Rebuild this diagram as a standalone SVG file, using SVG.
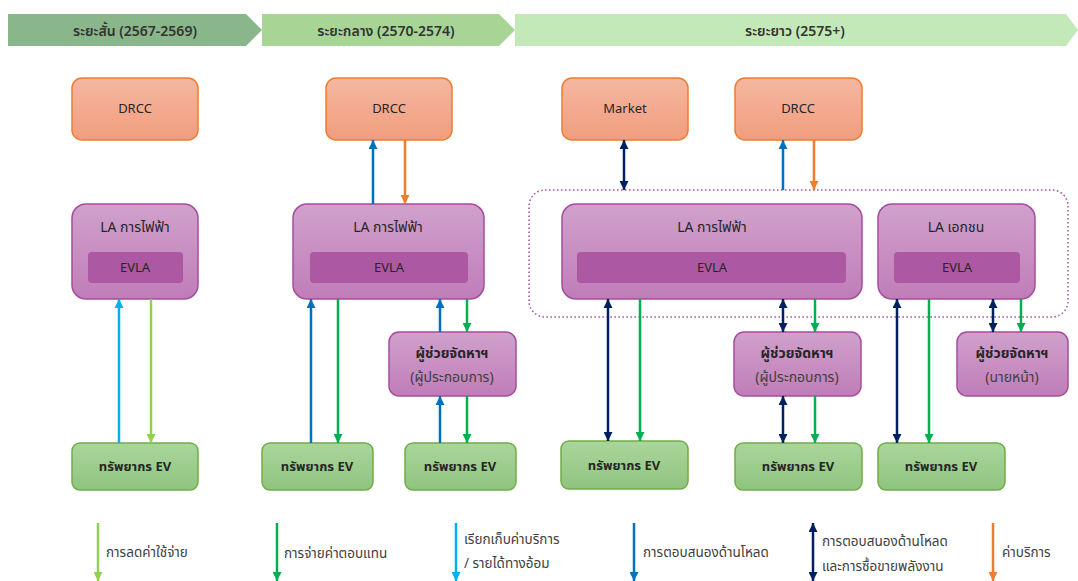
<svg xmlns="http://www.w3.org/2000/svg" width="1078" height="581" viewBox="0 0 1078 581">
<defs>
<linearGradient id="gO" x1="0" y1="0" x2="0" y2="1"><stop offset="0" stop-color="#f4b7a1"/><stop offset="1" stop-color="#f19d7d"/></linearGradient>
<linearGradient id="gP" x1="0" y1="0" x2="0" y2="1"><stop offset="0" stop-color="#d0a1cc"/><stop offset="1" stop-color="#c07db8"/></linearGradient>
<linearGradient id="gG" x1="0" y1="0" x2="0" y2="1"><stop offset="0" stop-color="#aad69c"/><stop offset="1" stop-color="#8fc47f"/></linearGradient>
<marker id="mCy" viewBox="0 0 10 10" refX="10" refY="5" markerWidth="9" markerHeight="9" markerUnits="userSpaceOnUse" orient="auto-start-reverse"><path d="M0,0L10,5L0,10z" fill="#00b0f0"/></marker>
<marker id="mLg" viewBox="0 0 10 10" refX="10" refY="5" markerWidth="9" markerHeight="9" markerUnits="userSpaceOnUse" orient="auto-start-reverse"><path d="M0,0L10,5L0,10z" fill="#92d050"/></marker>
<marker id="mGr" viewBox="0 0 10 10" refX="10" refY="5" markerWidth="9" markerHeight="9" markerUnits="userSpaceOnUse" orient="auto-start-reverse"><path d="M0,0L10,5L0,10z" fill="#00b050"/></marker>
<marker id="mBl" viewBox="0 0 10 10" refX="10" refY="5" markerWidth="9" markerHeight="9" markerUnits="userSpaceOnUse" orient="auto-start-reverse"><path d="M0,0L10,5L0,10z" fill="#0070c0"/></marker>
<marker id="mNv" viewBox="0 0 10 10" refX="10" refY="5" markerWidth="9" markerHeight="9" markerUnits="userSpaceOnUse" orient="auto-start-reverse"><path d="M0,0L10,5L0,10z" fill="#002060"/></marker>
<marker id="mOr" viewBox="0 0 10 10" refX="10" refY="5" markerWidth="9" markerHeight="9" markerUnits="userSpaceOnUse" orient="auto-start-reverse"><path d="M0,0L10,5L0,10z" fill="#ed7d31"/></marker>
</defs>
<style>
text{font-family:"Noto Sans","Noto Sans Thai","DejaVu Sans",sans-serif;text-anchor:middle;dominant-baseline:central;fill:#262626}
.hd{font-size:14px;font-weight:600;fill:#333}
.orb{fill:url(#gO);stroke:#ed7d31;stroke-width:1.5}
.pb{fill:url(#gP);stroke:#a64ca0;stroke-width:1.5}
.ev{fill:#ad58a3}
.gb{fill:url(#gG);stroke:#70ad47;stroke-width:1.5}
.t13{font-size:13px}
.t14{font-size:14px}
.b{font-weight:bold}
.sub{font-size:14px;fill:#404040}
.lg{font-size:13.5px;fill:#404040;text-anchor:start}
line{stroke-width:2.5;fill:none}
.cy{stroke:#00b0f0}.lgn{stroke:#92d050}.gr{stroke:#00b050}.bl{stroke:#0070c0}.nv{stroke:#002060}.or{stroke:#ed7d31}
</style>

<g id="header">
<polygon points="8,14 246,14 262,30 246,46 8,46" fill="#8ab68c"/>
<polygon points="262,14 499,14 515,30 499,46 262,46" fill="#a8d596"/>
<polygon points="515,14 1066,14 1078,30 1066,46 515,46" fill="#c4e9b8"/>
<text class="hd" x="135" y="30">ระยะสั้น (2567-2569)</text>
<text class="hd" x="386" y="30">ระยะกลาง (2570-2574)</text>
<text class="hd" x="795" y="30">ระยะยาว (2575+)</text>
</g>

<g id="group-dotted"><rect x="529" y="190" width="539" height="127" rx="16" fill="none" stroke="#a64ca0" stroke-width="1.5" stroke-dasharray="1.5 2.5"/></g>

<g id="drcc1"><rect class="orb" x="72" y="78" width="126" height="62" rx="10"/><text class="t13" x="135" y="108">DRCC</text></g>
<g id="drcc2"><rect class="orb" x="326" y="78" width="126" height="62" rx="10"/><text class="t13" x="389" y="108">DRCC</text></g>
<g id="market"><rect class="orb" x="562" y="78" width="126" height="62" rx="10"/><text class="t13" x="625" y="108">Market</text></g>
<g id="drcc3"><rect class="orb" x="735" y="78" width="127" height="62" rx="10"/><text class="t13" x="798" y="108">DRCC</text></g>

<g id="la1"><rect class="pb" x="72" y="204" width="126" height="95" rx="14"/><text class="t14" x="135" y="226">LA การไฟฟ้า</text><rect class="ev" x="88" y="252" width="95" height="31" rx="4"/><text class="t13" x="135" y="267">EVLA</text></g>
<g id="la2"><rect class="pb" x="293" y="204" width="191" height="95" rx="14"/><text class="t14" x="388" y="226">LA การไฟฟ้า</text><rect class="ev" x="310" y="252" width="158" height="31" rx="4"/><text class="t13" x="389" y="267">EVLA</text></g>
<g id="la3"><rect class="pb" x="562" y="204" width="300" height="95" rx="14"/><text class="t14" x="712" y="226">LA การไฟฟ้า</text><rect class="ev" x="577" y="252" width="269" height="31" rx="4"/><text class="t13" x="712" y="267">EVLA</text></g>
<g id="la4"><rect class="pb" x="878" y="204" width="157" height="95" rx="14"/><text class="t14" x="956" y="226">LA เอกชน</text><rect class="ev" x="894" y="252" width="126" height="31" rx="4"/><text class="t13" x="957" y="267">EVLA</text></g>

<g id="agg2"><rect class="pb" x="389" y="332" width="127" height="64" rx="10"/><text class="t14 b" x="452" y="352">ผู้ช่วยจัดหาฯ</text><text class="sub" x="452" y="376">(ผู้ประกอบการ)</text></g>
<g id="agg3"><rect class="pb" x="734" y="332" width="127" height="64" rx="10"/><text class="t14 b" x="797" y="352">ผู้ช่วยจัดหาฯ</text><text class="sub" x="797" y="376">(ผู้ประกอบการ)</text></g>
<g id="agg4"><rect class="pb" x="957" y="332" width="111" height="64" rx="10"/><text class="t14 b" x="1012" y="352">ผู้ช่วยจัดหาฯ</text><text class="sub" x="1012" y="376">(นายหน้า)</text></g>

<g id="ev1"><rect class="gb" x="72" y="443" width="126" height="47" rx="8"/><text class="t13 b" x="135" y="466">ทรัพยากร EV</text></g>
<g id="ev2"><rect class="gb" x="262" y="443" width="111" height="47" rx="8"/><text class="t13 b" x="317" y="466">ทรัพยากร EV</text></g>
<g id="ev3"><rect class="gb" x="405" y="443" width="111" height="47" rx="8"/><text class="t13 b" x="460" y="466">ทรัพยากร EV</text></g>
<g id="ev4"><rect class="gb" x="561" y="441" width="127" height="48" rx="8"/><text class="t13 b" x="624" y="465">ทรัพยากร EV</text></g>
<g id="ev5"><rect class="gb" x="735" y="443" width="127" height="47" rx="8"/><text class="t13 b" x="798" y="466">ทรัพยากร EV</text></g>
<g id="ev6"><rect class="gb" x="878" y="443" width="127" height="47" rx="8"/><text class="t13 b" x="941" y="466">ทรัพยากร EV</text></g>

<g id="connectors">
<line class="cy" x1="119" y1="443" x2="119" y2="299" marker-end="url(#mCy)"/>
<line class="lgn" x1="151" y1="299" x2="151" y2="443" marker-end="url(#mLg)"/>
<line class="bl" x1="373" y1="204" x2="373" y2="140" marker-end="url(#mBl)"/>
<line class="or" x1="405" y1="140" x2="405" y2="204" marker-end="url(#mOr)"/>
<line class="bl" x1="311" y1="443" x2="311" y2="299" marker-end="url(#mBl)"/>
<line class="gr" x1="338" y1="299" x2="338" y2="443" marker-end="url(#mGr)"/>
<line class="bl" x1="440" y1="332" x2="440" y2="299" marker-end="url(#mBl)"/>
<line class="gr" x1="467" y1="299" x2="467" y2="332" marker-end="url(#mGr)"/>
<line class="bl" x1="440" y1="443" x2="440" y2="396" marker-end="url(#mBl)"/>
<line class="gr" x1="467" y1="396" x2="467" y2="443" marker-end="url(#mGr)"/>
<line class="nv" x1="624" y1="140" x2="624" y2="190" marker-start="url(#mNv)" marker-end="url(#mNv)"/>
<line class="bl" x1="783" y1="190" x2="783" y2="140" marker-end="url(#mBl)"/>
<line class="or" x1="814" y1="140" x2="814" y2="190" marker-end="url(#mOr)"/>
<line class="nv" x1="608" y1="299" x2="608" y2="441" marker-start="url(#mNv)" marker-end="url(#mNv)"/>
<line class="gr" x1="640" y1="299" x2="640" y2="441" marker-end="url(#mGr)"/>
<line class="nv" x1="783" y1="299" x2="783" y2="332" marker-start="url(#mNv)" marker-end="url(#mNv)"/>
<line class="gr" x1="815" y1="299" x2="815" y2="332" marker-end="url(#mGr)"/>
<line class="nv" x1="783" y1="396" x2="783" y2="443" marker-start="url(#mNv)" marker-end="url(#mNv)"/>
<line class="gr" x1="815" y1="396" x2="815" y2="443" marker-end="url(#mGr)"/>
<line class="nv" x1="897" y1="299" x2="897" y2="443" marker-start="url(#mNv)" marker-end="url(#mNv)"/>
<line class="gr" x1="929" y1="299" x2="929" y2="443" marker-end="url(#mGr)"/>
<line class="nv" x1="993" y1="299" x2="993" y2="332" marker-start="url(#mNv)" marker-end="url(#mNv)"/>
<line class="gr" x1="1021" y1="299" x2="1021" y2="332" marker-end="url(#mGr)"/>
</g>

<g id="legend">
<line class="lgn" x1="98" y1="523" x2="98" y2="581" marker-end="url(#mLg)"/>
<text class="lg" x="106" y="552">การลดค่าใช้จ่าย</text>
<line class="gr" x1="277" y1="523" x2="277" y2="581" marker-end="url(#mGr)"/>
<text class="lg" x="284" y="553">การจ่ายค่าตอบแทน</text>
<line class="cy" x1="456" y1="523" x2="456" y2="581" marker-end="url(#mCy)"/>
<text class="lg" x="464" y="539">เรียกเก็บค่าบริการ</text>
<text class="lg" x="464" y="563">/ รายได้ทางอ้อม</text>
<line class="bl" x1="634" y1="523" x2="634" y2="581" marker-end="url(#mBl)"/>
<text class="lg" x="643" y="552">การตอบสนองด้านโหลด</text>
<line class="nv" x1="813" y1="523" x2="813" y2="581" marker-start="url(#mNv)" marker-end="url(#mNv)"/>
<text class="lg" x="822" y="541">การตอบสนองด้านโหลด</text>
<text class="lg" x="822" y="566">และการซื้อขายพลังงาน</text>
<line class="or" x1="993" y1="523" x2="993" y2="581" marker-end="url(#mOr)"/>
<text class="lg" x="1002" y="552">ค่าบริการ</text>
</g>
</svg>
